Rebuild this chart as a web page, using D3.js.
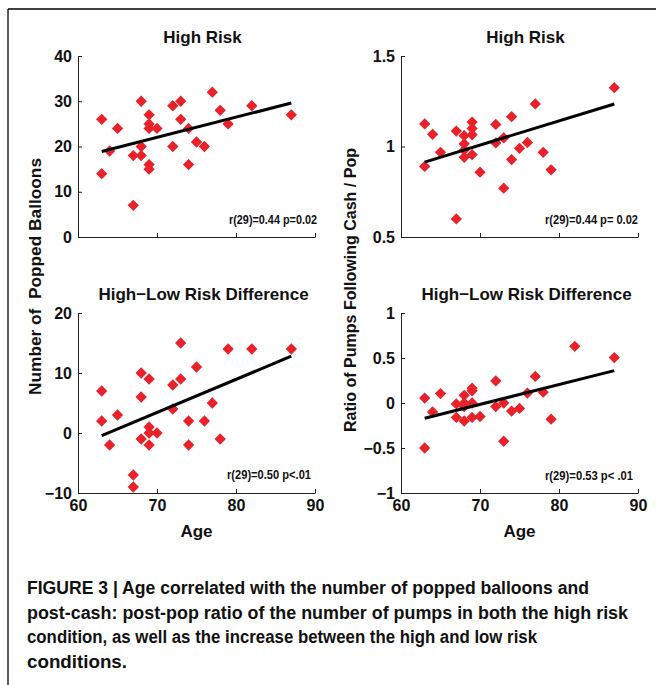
<!DOCTYPE html>
<html><head><meta charset="utf-8">
<script src="https://cdn.jsdelivr.net/npm/d3@7"></script>
<style>
body{margin:0;background:#fff}
svg{display:block}
text{font-family:"Liberation Sans",Arial,Helvetica,sans-serif;font-weight:bold;fill:#111}
</style>
</head><body>
<svg id="c" width="656" height="685"></svg>
<script>
// ---------- data ----------
const xTicks = [60, 70, 80, 90];

const age1 = [63,63,64,65,67,67,68,68,68,69,69,69,69,69,70,72,72,73,73,74,74,75,76,77,78,79,82,87];
const popHigh = [26,14,19,24,18,7,30,20,18,27,25,24,16,15,24,29,20,30,26,24,16,21,20,32,28,25,29,27];

const age2 = [63,63,64,65,67,67,68,68,68,68,69,69,69,69,70,72,72,73,73,74,74,75,76,77,78,79,87];
const ratioHigh = [1.125,0.89,1.067,0.968,1.085,0.60,1.06,1.015,0.98,0.94,1.135,1.10,1.065,0.955,0.858,1.122,1.02,1.048,0.77,1.165,0.928,0.99,1.022,1.235,0.968,0.871,1.325];

const age3 = [63,63,64,65,67,67,68,68,68,69,69,69,69,70,72,72,73,73,74,74,75,76,77,78,79,82,87];
const popDiff = [7,2,-2,3,-7,-9,10,6,-1,9,1,0,-2,0,8,4,15,9,2,-2,11,2,5,-1,14,14,14];

const age4 = [63,63,64,65,67,67,68,68,68,68,69,69,69,69,70,72,72,73,73,74,75,76,77,78,79,82,87];
const ratioDiff = [0.055,-0.5,-0.1,0.105,-0.01,-0.16,0.085,0.0,-0.04,-0.2,0.165,0.135,0.0,-0.16,-0.15,0.245,-0.04,0.0,-0.425,-0.09,-0.06,0.11,0.295,0.12,-0.18,0.63,0.505];

// fitted regression line end points (age, value)
const fitAge = [63, 87];
const fit1 = [18.9, 29.6];
const fit2 = [0.914, 1.235];
const fit3 = [-0.45, 12.8];
const fit4 = [-0.17, 0.36];

const yTicks1 = [0, 10, 20, 30, 40];
const yTicks2 = [0.5, 1, 1.5];
const yTicks3 = [-10, 0, 10, 20];
const yTicks4 = [-1, -0.5, 0, 0.5, 1];

const titles = ["High Risk", "High Risk", "High\u2212Low Risk Difference", "High\u2212Low Risk Difference"];
const stats = ["r(29)=0.44 p=0.02", "r(29)=0.44 p= 0.02", "r(29)=0.50 p<.01", "r(29)=0.53 p< .01"];
const xLabel = "Age";
const yLabelLeft = "Number of  Popped Balloons";
const yLabelRight = "Ratio of Pumps Following Cash / Pop";
const captionLines = [
  "FIGURE 3 | Age correlated with the number of popped balloons and",
  "post-cash: post-pop ratio of the number of pumps in both the high risk",
  "condition, as well as the increase between the high and low risk",
  "conditions."
];

// ---------- layout ----------
const svg = d3.select("#c");
const RED = "#e8212a";
const NARROW = '"Liberation Sans Narrow","Arial Narrow","Liberation Sans",Arial,sans-serif';

// frame
svg.append("line").attr("x1", 8).attr("x2", 656).attr("y1", 9).attr("y2", 9).attr("stroke", "#000").attr("stroke-width", 1.3);
svg.append("line").attr("x1", 8).attr("x2", 8).attr("y1", 9).attr("y2", 685).attr("stroke", "#000").attr("stroke-width", 1.3);

const panels = [
  {ages: age1, vals: popHigh, fit: fit1, yt: yTicks1, x0: 78, x1: 315, y0: 56, y1: 237, xlab: false, tdx: 6, stat: [229, 224, 88]},
  {ages: age2, vals: ratioHigh, fit: fit2, yt: yTicks2, x0: 401, x1: 638, y0: 56, y1: 237, xlab: false, tdx: 6, stat: [545, 224, 93]},
  {ages: age3, vals: popDiff, fit: fit3, yt: yTicks3, x0: 78, x1: 315, y0: 313, y1: 493, xlab: true, tdx: 7, stat: [227, 479, 84]},
  {ages: age4, vals: ratioDiff, fit: fit4, yt: yTicks4, x0: 401, x1: 638, y0: 313, y1: 493, xlab: true, tdx: 7, stat: [545, 480, 88]}
];

const fmt = d3.format("~g");

panels.forEach((p, i) => {
  const x = d3.scaleLinear().domain([60, 90]).range([p.x0, p.x1]);
  const y = d3.scaleLinear().domain(d3.extent(p.yt)).range([p.y1, p.y0]);
  const g = svg.append("g");

  // axes
  const ax = g.append("g").attr("transform", `translate(0,${p.y1})`)
    .call(d3.axisBottom(x).tickValues(xTicks).tickSize(-4).tickSizeOuter(0).tickPadding(7)
      .tickFormat(p.xlab ? fmt : () => ""));
  const ay = g.append("g").attr("transform", `translate(${p.x0},0)`)
    .call(d3.axisLeft(y).tickValues(p.yt).tickSize(-4).tickSizeOuter(0).tickPadding(6).tickFormat(fmt));
  [ax, ay].forEach(a => {
    a.attr("font-family", null).attr("font-size", null);
    a.select(".domain").attr("stroke", "#222").attr("stroke-width", 1);
    a.selectAll(".tick line").attr("stroke", "#222").attr("stroke-width", 1);
    a.selectAll("text").attr("font-size", 16).style("fill", "#111");
  });

  // points
  const pts = p.ages.map((a, k) => [a, p.vals[k]]);
  g.selectAll("path.pt").data(pts).join("path").attr("class", "pt")
    .attr("d", d3.symbol(d3.symbolSquare, 64)())
    .attr("transform", d => `translate(${x(d[0])},${y(d[1])}) rotate(45)`)
    .attr("fill", RED);

  // fit line
  g.append("path").datum(fitAge.map((a, k) => [a, p.fit[k]]))
    .attr("d", d3.line().x(d => x(d[0])).y(d => y(d[1])))
    .attr("stroke", "#000").attr("stroke-width", 3).attr("fill", "none");

  // title
  g.append("text").attr("x", (p.x0 + p.x1) / 2 + p.tdx).attr("y", p.y0 - 13)
    .attr("text-anchor", "middle").attr("font-size", 17).text(titles[i]);

  // stat
  g.append("text").attr("x", p.stat[0]).attr("y", p.stat[1])
    .attr("font-size", 13).attr("textLength", p.stat[2]).attr("lengthAdjust", "spacingAndGlyphs")
    .style("font-family", NARROW)
    .text(stats[i]);

  if (p.xlab) {
    g.append("text").attr("x", (p.x0 + p.x1) / 2).attr("y", 537)
      .attr("text-anchor", "middle").attr("font-size", 17).text(xLabel);
  }
});

// y labels
svg.append("text").attr("transform", "translate(41,276.5) rotate(-90)")
  .attr("text-anchor", "middle").attr("font-size", 17).style("white-space", "pre")
  .attr("textLength", 237).attr("lengthAdjust", "spacingAndGlyphs").text(yLabelLeft);
svg.append("text").attr("transform", "translate(356,290) rotate(-90)")
  .attr("text-anchor", "middle").attr("font-size", 17)
  .attr("textLength", 284).attr("lengthAdjust", "spacingAndGlyphs").text(yLabelRight);

// caption
const capWidths = [562, 601, 510, 100];
svg.append("g").attr("transform", "translate(27,594)")
  .selectAll("text").data(captionLines).join("text")
  .attr("x", 0).attr("y", (d, k) => k * 24.5)
  .attr("font-size", 18)
  .attr("textLength", (d, k) => capWidths[k]).attr("lengthAdjust", "spacingAndGlyphs")
  .style("font-family", NARROW)
  .text(d => d);
</script>
</body></html>
